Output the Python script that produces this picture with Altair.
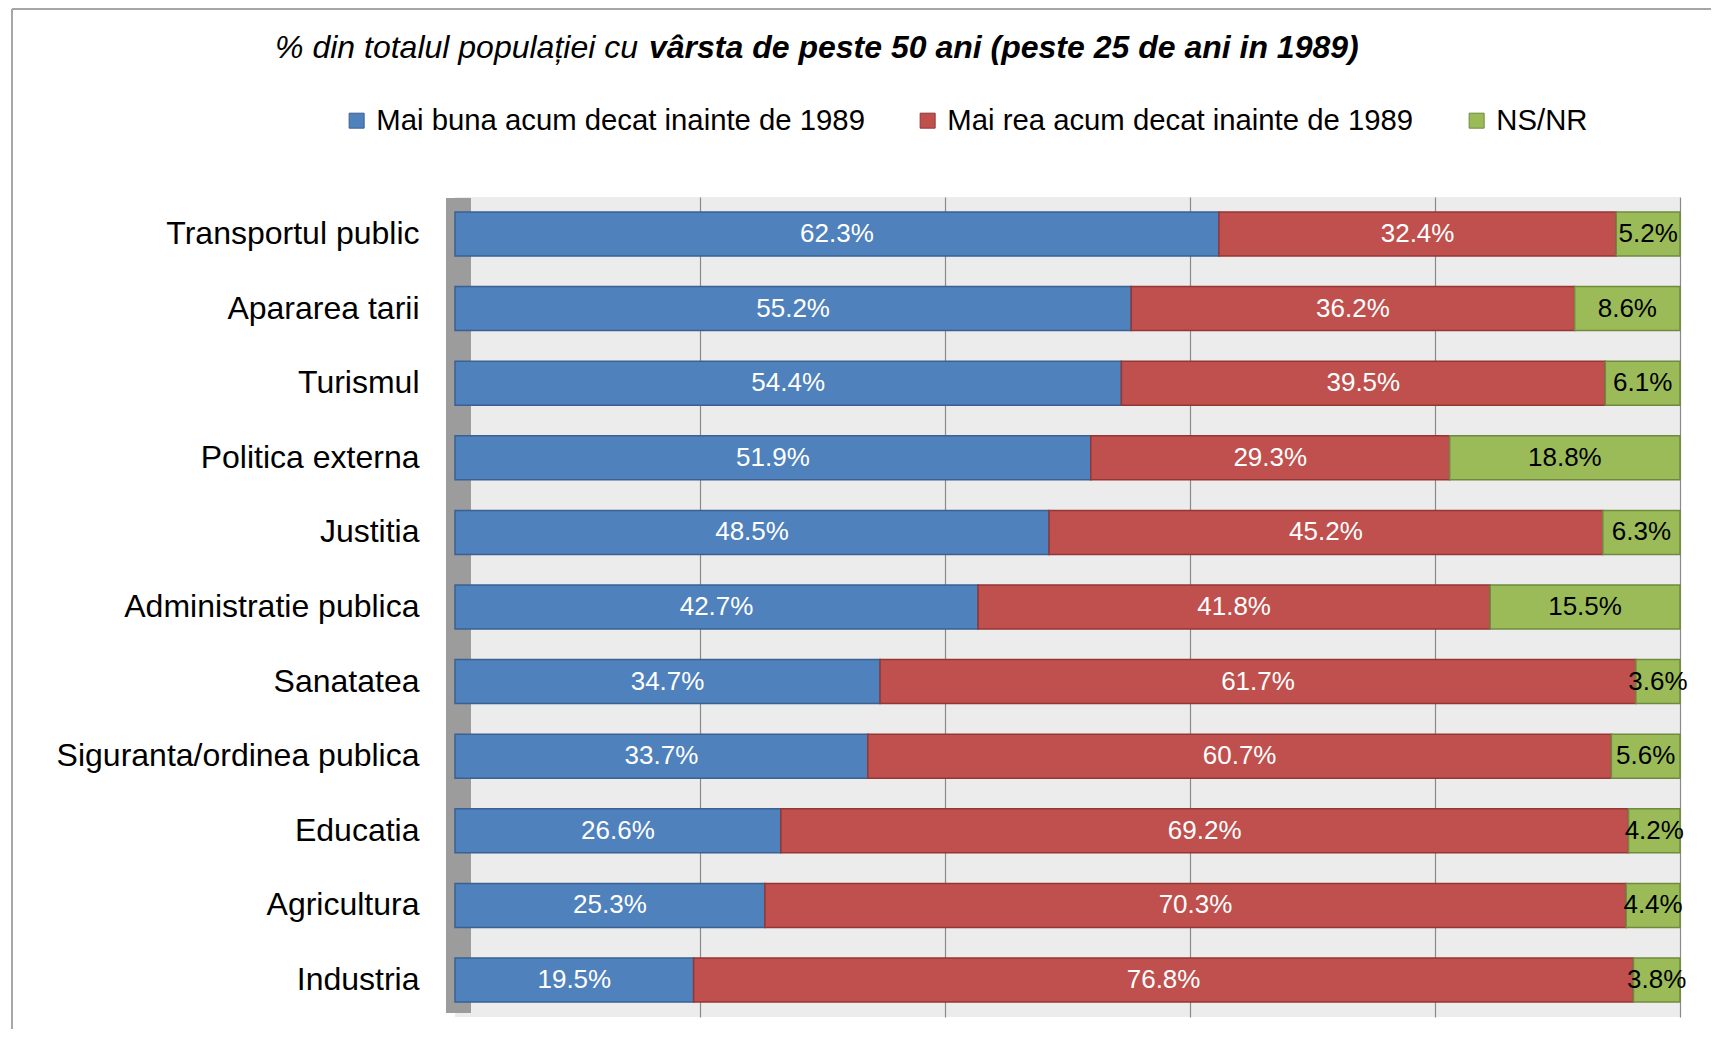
import altair as alt
import pandas as pd

categories = ["Transportul public", "Apararea tarii", "Turismul", "Politica externa", "Justitia",
              "Administratie publica", "Sanatatea", "Siguranta/ordinea publica", "Educatia",
              "Agricultura", "Industria"]
series = ["Mai buna acum decat inainte de 1989", "Mai rea acum decat inainte de 1989", "NS/NR"]
mai_buna = [62.3, 55.2, 54.4, 51.9, 48.5, 42.7, 34.7, 33.7, 26.6, 25.3, 19.5]
mai_rea = [32.4, 36.2, 39.5, 29.3, 45.2, 41.8, 61.7, 60.7, 69.2, 70.3, 76.8]
ns_nr = [5.2, 8.6, 6.1, 18.8, 6.3, 15.5, 3.6, 5.6, 4.2, 4.4, 3.8]
grid_values = [0.2, 0.4, 0.6, 0.8, 1.0]

title_plain = "% din totalul populației cu"
title_bold = "vârsta de peste 50 ani (peste 25 de ani in 1989)"

fills = ["#4F81BD", "#C0504D", "#9BBB59"]
strokes = ["#3A6191", "#943634", "#6F8A3E"]

rows = []
for vals, s_idx in ((mai_buna, 0), (mai_rea, 1), (ns_nr, 2)):
    for c, v in zip(categories, vals):
        rows.append({"cat": c, "series": series[s_idx], "s_idx": s_idx, "value": v})
df = pd.DataFrame(rows)

FONT = "Liberation Sans"
W, H = 1225, 820

base = alt.Chart(df).transform_stack(
    stack="value", groupby=["cat"], sort=[alt.SortField("s_idx")],
    offset="normalize", as_=["x0", "x1"]
)

yenc = alt.Y("cat:N", sort=categories, title=None,
             scale=alt.Scale(paddingInner=0.41, paddingOuter=0.2),
             axis=alt.Axis(labelFontSize=32, labelColor="black", labelPadding=36,
                           ticks=False, domain=False, labelFont=FONT, labelLimit=600))

bars = base.mark_bar(strokeWidth=1.5).encode(
    y=yenc,
    x=alt.X("x0:Q", scale=alt.Scale(domain=[0, 1]), title=None,
            axis=alt.Axis(values=grid_values, labels=False, ticks=False, domain=False,
                          grid=True, gridColor="#8a8a8a", gridWidth=1.2)),
    x2="x1:Q",
    color=alt.Color("series:N", scale=alt.Scale(domain=series, range=fills),
                    legend=alt.Legend(orient="none", legendX=-113, legendY=-91,
                                      direction="horizontal", title=None,
                                      labelFontSize=29.3, labelFont=FONT, labelColor="black",
                                      symbolType="square", symbolSize=225,
                                      symbolStrokeWidth=1,
                                      columnPadding=48, labelOffset=5, labelLimit=700)),
    stroke=alt.Stroke("series:N", scale=alt.Scale(domain=series, range=strokes), legend=None),
)

labels = base.transform_calculate(
    mid="(datum.x0 + datum.x1) / 2",
    lbl="format(datum.value, '.1f') + '%'"
).mark_text(fontSize=26, font=FONT).encode(
    y=alt.Y("cat:N", sort=categories),
    x="mid:Q",
    text="lbl:N",
    color=alt.condition(alt.datum.series == "NS/NR", alt.value("black"), alt.value("white")),
)

one = pd.DataFrame({"t": [0]})

side_wall = alt.Chart(one).mark_rect(color="#9c9c9c").encode(
    x=alt.value(-9), x2=alt.value(16), y=alt.value(1), y2=alt.value(816)
)

t_plain = alt.Chart(pd.DataFrame({"t": [title_plain]})).mark_text(
    fontSize=32, font=FONT, fontStyle="italic", align="right", baseline="middle", color="black"
).encode(text="t:N", x=alt.value(183), y=alt.value(-149))

t_bold = alt.Chart(pd.DataFrame({"t": [title_bold]})).mark_text(
    fontSize=32, font=FONT, fontStyle="italic", fontWeight="bold", align="left",
    baseline="middle", color="black"
).encode(text="t:N", x=alt.value(194), y=alt.value(-149))

border_top = alt.Chart(one).mark_rule(color="#a6a6a6", strokeWidth=2).encode(
    x=alt.value(-443), x2=alt.value(1256), y=alt.value(-188)
)
border_left = alt.Chart(one).mark_rule(color="#a6a6a6", strokeWidth=2).encode(
    x=alt.value(-443), y=alt.value(-188), y2=alt.value(832)
)

chart = alt.layer(side_wall, bars, labels, t_plain, t_bold, border_top, border_left).properties(
    width=W, height=H, padding={"left": 3, "top": 0, "right": 0, "bottom": 0},
    background="white"
).configure_view(stroke=None, fill="#ececec")

chart.save("out.html", embed_options={"renderer": "svg", "actions": False})
